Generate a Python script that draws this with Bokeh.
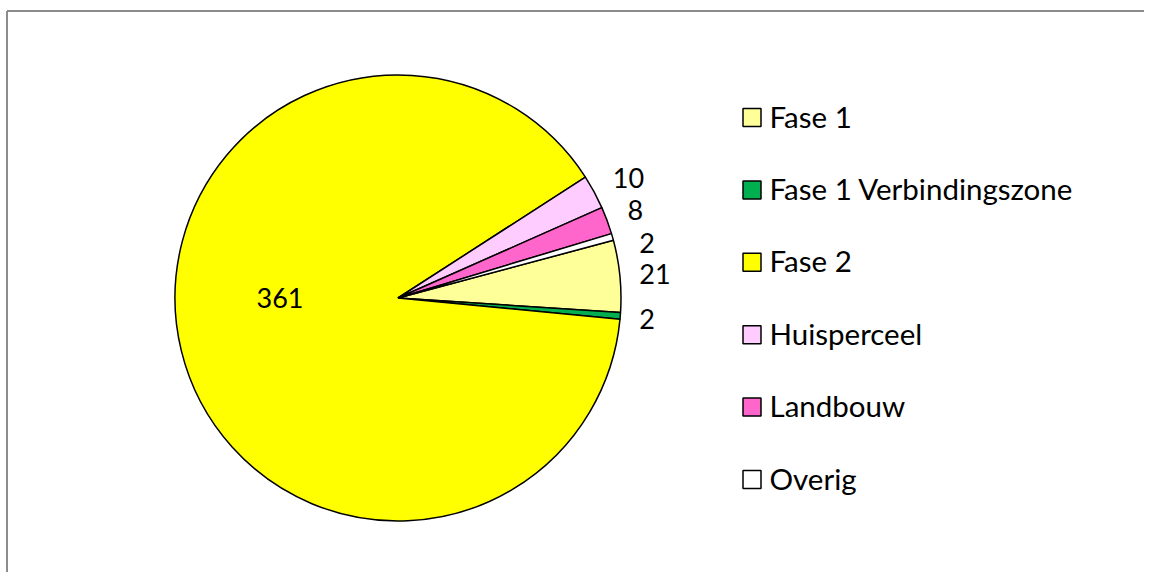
import numpy as np
from bokeh.plotting import figure
from bokeh.models import Range1d
from bokeh.core.properties import value
from bokeh.embed import file_html
from bokeh.resources import INLINE

# ---- data ----
categories = ["Fase 1", "Fase 1 Verbindingszone", "Fase 2", "Huisperceel", "Landbouw", "Overig"]
values = [21, 2, 361, 10, 8, 2]
colors = ["#FFFF99", "#00B050", "#FFFF00", "#FFCCFF", "#FF66CC", "#FFFFFF"]

# ---- layout ----
W, H = 1144, 572
FONT = "Lato"
FS_LABEL = "27px"
FS_LEGEND = "29.5px"
OFF = 0


def X(px):
    return px - OFF


def Y(py):
    return H + OFF - py


cx, cy, R = X(397.5), Y(297.5), 223
first_angle = 15.0  # degrees (counter-clockwise from east), slices run clockwise

total = float(sum(values))
cum = np.concatenate([[0.0], np.cumsum(values)])
starts = first_angle - cum[:-1] / total * 360.0
ends = first_angle - cum[1:] / total * 360.0
mids = (starts + ends) / 2.0

# label placement (radius, angular nudge in degrees)
label_r = [258, 250, 118, 260, 253, 255]
label_nudge = [-0.4, -0.3, -13.5, -0.8, 0.0, -3.5]

p = figure(width=W, height=H, x_range=Range1d(0, W), y_range=Range1d(0, H),
           output_backend="svg", toolbar_location=None, min_border=0,
           x_axis_location=None, y_axis_location=None)
p.grid.visible = False
p.outline_line_color = None
p.background_fill_color = "white"
p.border_fill_color = "white"

# chart area border (top and left visible)
p.line(x=[X(6.5), X(6.5)], y=[-5, Y(10.5)], line_color="#8c8c8c", line_width=2)
p.line(x=[X(6.5), W + 5], y=[Y(10.5), Y(10.5)], line_color="#8c8c8c", line_width=2)

p.wedge(x=cx, y=cy, radius=R, start_angle=np.radians(starts), end_angle=np.radians(ends),
        direction="clock",
        fill_color=colors, line_color="black", line_width=1.5)

la = np.radians(mids + np.array(label_nudge))
lx = cx + np.array(label_r) * np.cos(la)
ly = cy + np.array(label_r) * np.sin(la)
p.text(x=lx, y=ly, text=[str(v) for v in values], text_align="center",
       text_baseline="middle", text_font=value(FONT), text_font_size=FS_LABEL,
       text_color="black")

# legend
leg_y = [Y(115.5 + 72.4 * i) for i in range(len(categories))]
p.rect(x=[X(751.5)] * len(categories), y=[Y(117 + 72.4 * i) for i in range(len(categories))],
       width=18, height=18, fill_color=colors, line_color="black", line_width=1.5)
p.text(x=[X(769)] * len(categories), y=leg_y, text=categories,
       text_align="left", text_baseline="middle", text_font=value(FONT),
       text_font_size=FS_LEGEND, text_color="black")

open("out.html", "w").write(file_html(p, INLINE))
